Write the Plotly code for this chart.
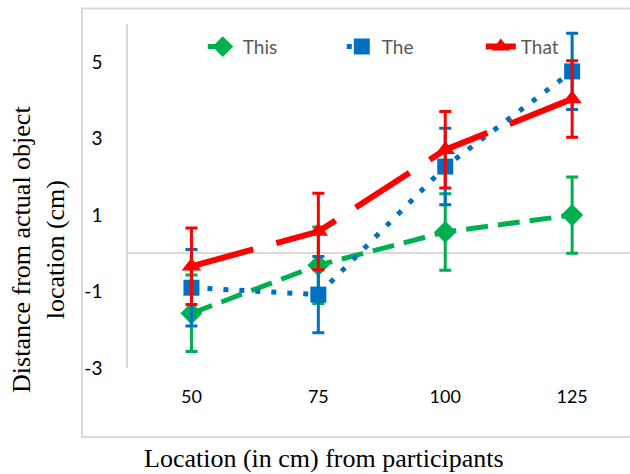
import plotly.graph_objects as go

categories = ["50", "75", "100", "125"]
this_vals = [-1.57, -0.31, 0.56, 1.0]
the_vals = [-0.90, -1.08, 2.27, 4.76]
that_vals = [-0.34, 0.57, 2.71, 4.04]
this_err = [1.0, 1.0, 1.0, 1.0]
the_err = [1.0, 1.0, 1.0, 1.0]
that_err = [1.0, 1.0, 1.0, 1.0]
y_ticks = [-3, -1, 1, 3, 5]
y_tick_text = ["-3", "-1", "1", "3", "5"]

GREEN = "#00b050"
BLUE = "#0070c0"
RED = "#ff0000"
GRID = "#d9d9d9"

fig = go.Figure()

fig.add_trace(go.Scatter(
    x=categories, y=this_vals, name="This", mode="lines+markers",
    line=dict(color=GREEN, width=5, dash="22px,10px"),
    marker=dict(symbol="diamond", size=17, color=GREEN),
    error_y=dict(type="data", array=this_err, color=GREEN, thickness=3, width=6),
))
fig.add_trace(go.Scatter(
    x=categories, y=the_vals, name="The", mode="lines+markers",
    line=dict(color=BLUE, width=5, dash="5px,11px"),
    marker=dict(symbol="square", size=16, color=BLUE),
    error_y=dict(type="data", array=the_err, color=BLUE, thickness=3, width=6),
))
fig.add_trace(go.Scatter(
    x=categories, y=that_vals, name="That", mode="lines+markers",
    line=dict(color=RED, width=6, dash="64px,24px"),
    marker=dict(symbol="triangle-up", size=17, color=RED),
    error_y=dict(type="data", array=that_err, color=RED, thickness=3, width=6),
))

fig.update_layout(
    width=630, height=474,
    margin=dict(l=128, r=0, t=24, b=106),
    paper_bgcolor="white", plot_bgcolor="white",
    showlegend=True,
    legend=dict(
        orientation="h", x=0.149, xanchor="left", y=0.934, yanchor="middle",
        font=dict(family="Lato", size=19, color="#595959"),
        bgcolor="rgba(0,0,0,0)", entrywidth=94, entrywidthmode="pixels",
        itemwidth=30,
    ),
    xaxis=dict(
        type="category", range=[-0.5, 3.456],
        showgrid=False, showline=False, zeroline=False,
        ticks="outside", ticklen=12, tickcolor="rgba(0,0,0,0)",
        tickfont=dict(family="Lato", size=18, color="black"),
        fixedrange=True,
    ),
    yaxis=dict(
        range=[-3, 6], tickvals=y_ticks, ticktext=y_tick_text,
        showgrid=False, showline=True, linecolor=GRID, linewidth=1.5,
        zeroline=True, zerolinecolor=GRID, zerolinewidth=1.5,
        ticks="outside", ticklen=20, tickcolor="rgba(0,0,0,0)",
        tickfont=dict(family="Lato", size=19, color="black"),
        fixedrange=True,
    ),
    shapes=[dict(
        type="rect", xref="paper", yref="paper",
        x0=-0.0916, x1=1.06, y0=-0.2006, y1=1.045,
        line=dict(color=GRID, width=2), fillcolor="rgba(0,0,0,0)", layer="below",
    )],
    annotations=[
        dict(
            text="Distance from actual object<br>location (cm)",
            xref="paper", yref="paper", x=-0.178, y=0.345,
            xanchor="center", yanchor="middle", textangle=-90, showarrow=False,
            font=dict(family="Liberation Serif", size=26, color="black"),
        ),
        dict(
            text="Location (in cm) from participants",
            xref="paper", yref="paper", x=(324 - 128) / 502, y=(368 - 458) / 344,
            xanchor="center", yanchor="middle", showarrow=False,
            font=dict(family="Liberation Serif", size=26, color="black"),
        ),
    ],
)

fig.write_html(
    "out.html",
    config={"displayModeBar": False},
    post_script="document.body.style.margin='0';document.body.style.padding='0';",
)
